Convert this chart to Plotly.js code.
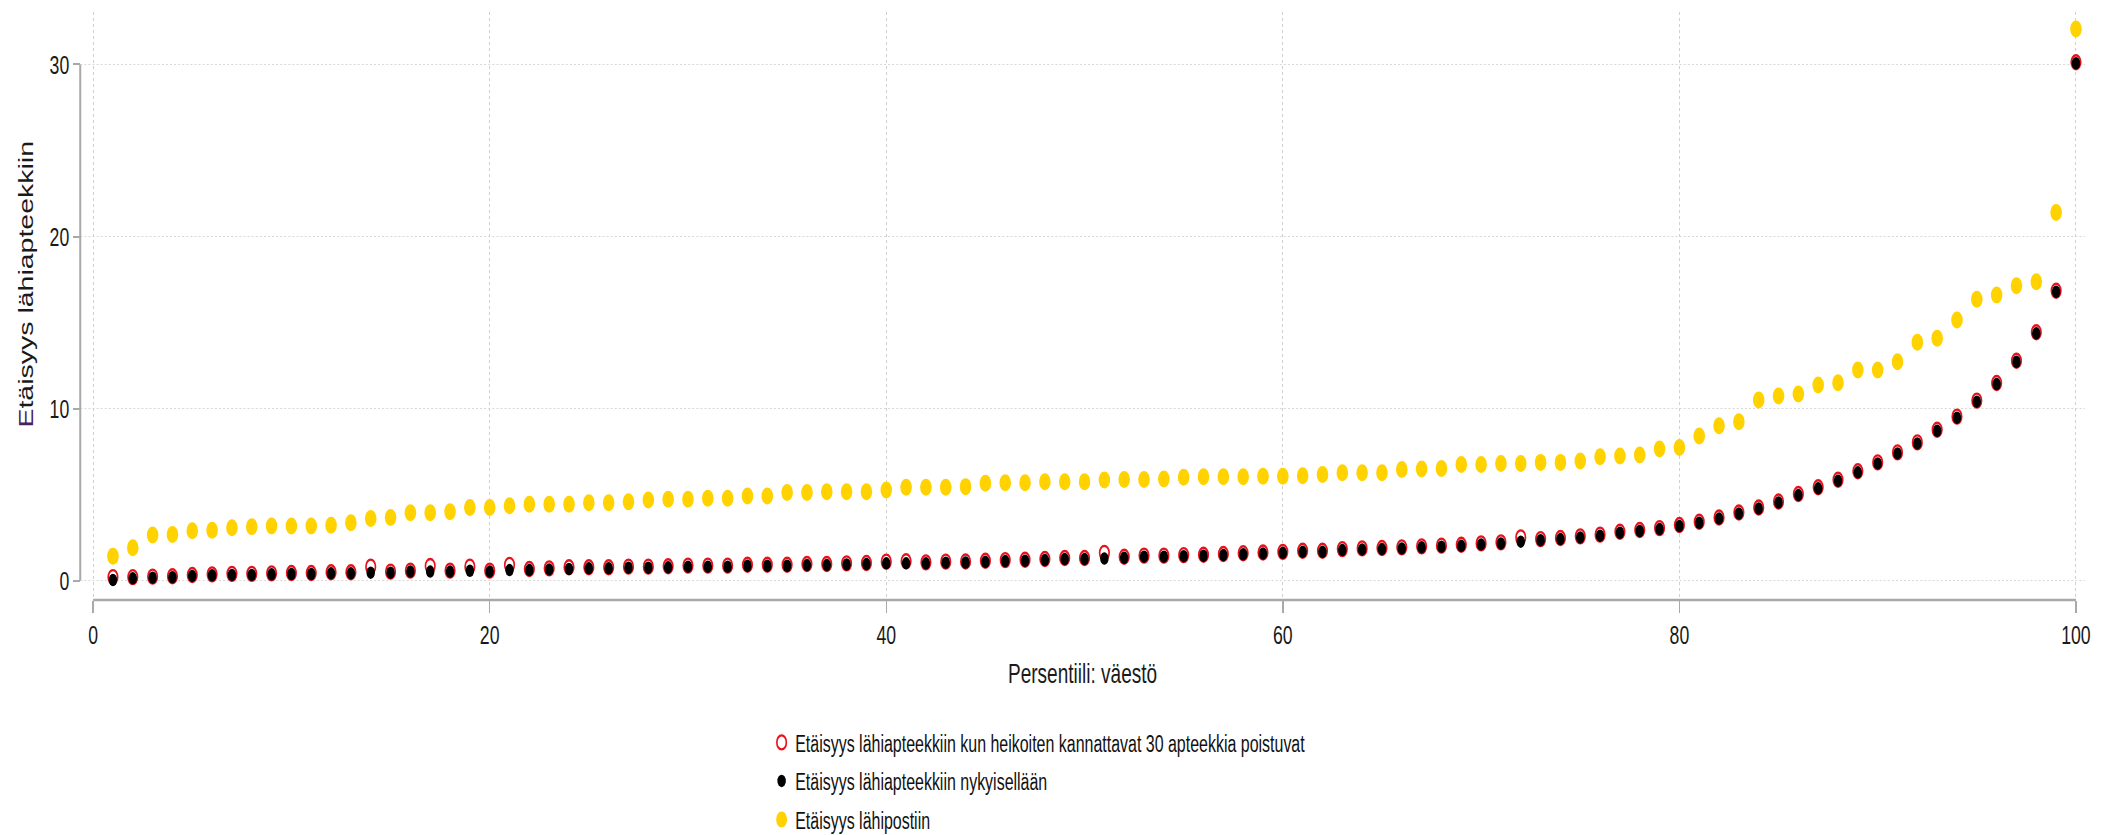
<!DOCTYPE html>
<html>
<head>
<meta charset="utf-8">
<script src="https://cdn.plot.ly/plotly-3.0.1.min.js"></script>
<style>
  html, body { margin: 0; padding: 0; background: #fff; overflow: hidden; }
  #wrap { width: 2105px; height: 835px; overflow: hidden; }
  #chart { width: 3096px; height: 835px; transform: scaleX(0.68); transform-origin: 0 0; }
</style>
</head>
<body>
<div id="wrap"><div id="chart"></div></div>
<script>
const percentile = [1,2,3,4,5,6,7,8,9,10,11,12,13,14,15,16,17,18,19,20,21,22,23,24,25,26,27,28,29,30,
  31,32,33,34,35,36,37,38,39,40,41,42,43,44,45,46,47,48,49,50,51,52,53,54,55,56,57,58,59,60,
  61,62,63,64,65,66,67,68,69,70,71,72,73,74,75,76,77,78,79,80,81,82,83,84,85,86,87,88,89,90,
  91,92,93,94,95,96,97,98,99,100];

const pharmacyAfterClosures = [0.20,0.20,0.23,0.25,0.32,0.36,0.39,0.39,0.42,0.44,0.44,0.48,0.48,0.81,0.52,0.58,0.85,0.58,0.81,0.58,0.91,0.67,0.71,0.77,0.77,0.77,0.81,0.81,0.83,0.87,
  0.87,0.87,0.92,0.92,0.92,0.96,0.96,1.00,1.02,1.10,1.12,1.06,1.10,1.11,1.15,1.19,1.21,1.25,1.31,1.31,1.61,1.38,1.45,1.45,1.48,1.50,1.54,1.59,1.63,1.67,1.73,1.73,1.83,1.87,1.89,
  1.93,1.99,2.03,2.08,2.16,2.22,2.51,2.41,2.47,2.57,2.67,2.84,2.94,3.05,3.23,3.42,3.67,3.96,4.25,4.60,5.03,5.42,5.86,6.35,6.87,7.45,8.03,8.77,9.53,10.46,11.48,12.78,14.43,16.85,30.13];

const pharmacyCurrent = [0.03,0.13,0.17,0.19,0.27,0.31,0.33,0.33,0.36,0.38,0.38,0.42,0.42,0.46,0.46,0.52,0.52,0.52,0.57,0.52,0.61,0.61,0.65,0.67,0.71,0.71,0.75,0.75,0.77,0.81,
  0.81,0.81,0.86,0.86,0.86,0.90,0.90,0.94,0.96,1.00,1.00,1.00,1.04,1.05,1.09,1.13,1.15,1.19,1.25,1.25,1.28,1.32,1.39,1.39,1.42,1.44,1.48,1.53,1.57,1.61,1.67,1.67,1.77,1.81,1.83,
  1.87,1.93,1.97,2.02,2.10,2.16,2.26,2.35,2.41,2.51,2.61,2.78,2.88,2.99,3.17,3.36,3.61,3.90,4.19,4.54,4.97,5.36,5.80,6.29,6.81,7.39,7.97,8.71,9.47,10.40,11.42,12.72,14.37,16.79,30.07];

const postOffice = [1.42,1.91,2.65,2.68,2.90,2.93,3.07,3.13,3.17,3.17,3.17,3.21,3.36,3.61,3.67,3.94,3.94,4.00,4.25,4.25,4.35,4.43,4.43,4.43,4.52,4.52,4.58,4.68,4.72,4.72,
  4.78,4.78,4.91,4.91,5.12,5.12,5.16,5.16,5.16,5.26,5.42,5.42,5.42,5.46,5.65,5.69,5.69,5.75,5.75,5.75,5.84,5.88,5.88,5.90,6.00,6.03,6.03,6.03,6.07,6.07,6.09,6.17,6.27,6.27,6.27,
  6.46,6.48,6.52,6.75,6.75,6.81,6.81,6.87,6.87,6.95,7.20,7.24,7.30,7.65,7.74,8.40,9.00,9.23,10.49,10.73,10.84,11.37,11.50,12.24,12.24,12.72,13.85,14.08,15.14,16.35,16.60,17.14,17.37,21.40,32.06];

const seriesNames = [
  "Etäisyys lähiapteekkiin kun heikoiten kannattavat 30 apteekkia poistuvat",
  "Etäisyys lähiapteekkiin nykyisellään",
  "Etäisyys lähipostiin"
];
const xTicks = [0, 20, 40, 60, 80, 100];
const yTicks = [0, 10, 20, 30];
const xTitle = "Persentiili: väestö";
const yTitle = '<span style="color:#4a1f5c">E</span>täisyys lähiapteekkiin';

const FONT = "'Liberation Sans', Arial, sans-serif";

const traces = [
  { x: percentile, y: pharmacyAfterClosures, type: 'scatter', mode: 'markers', name: seriesNames[0],
    legendgroup: 'a',
    marker: { symbol: 'circle-open', size: 14, color: '#e8121c', line: { width: 2.4, color: '#e8121c' } } },
  { x: percentile, y: pharmacyCurrent, type: 'scatter', mode: 'markers', name: seriesNames[1],
    legendgroup: 'b',
    marker: { symbol: 'circle', size: 12.5, color: '#000000' } },
  { x: percentile, y: postOffice, type: 'scatter', mode: 'markers', name: seriesNames[2],
    legendgroup: 'c',
    marker: { symbol: 'circle', size: 17, color: '#ffd200' } }
];

const axisGray = '#a9a9a9';

const layout = {
  width: 3096, height: 835, autosize: false,
  paper_bgcolor: '#ffffff', plot_bgcolor: '#ffffff',
  margin: { l: 118, r: 30, t: 12, b: 235, autoexpand: false },
  font: { family: FONT, color: '#1a1a1a' },
  showlegend: true,
  legend: {
    xref: 'container', yref: 'container',
    x: 0.3648, y: 0.137, xanchor: 'left', yanchor: 'top',
    orientation: 'v', traceorder: 'grouped', tracegroupgap: 5,
    font: { family: FONT, size: 23.5, color: '#111' },
    itemsizing: 'trace', bgcolor: 'rgba(0,0,0,0)'
  },
  xaxis: {
    range: [-0.65, 100.45], tickvals: xTicks, ticktext: xTicks.map(String),
    showgrid: true, gridcolor: '#d0d0d0', griddash: 'dot', gridwidth: 1.5,
    zeroline: false, showline: false,
    ticks: 'outside', ticklen: 12, tickwidth: 2, tickcolor: axisGray,
    tickfont: { family: FONT, size: 26, color: '#1a1a1a' },
    title: { text: xTitle, font: { family: FONT, size: 28, color: '#1a1a1a' }, standoff: 14 },
    automargin: false, fixedrange: true
  },
  yaxis: {
    range: [-1.13, 33.05], tickvals: yTicks, ticktext: yTicks.map(String),
    showgrid: true, gridcolor: '#d0d0d0', griddash: 'dot', gridwidth: 1,
    zeroline: false, showline: false,
    ticks: 'outside', ticklen: 10, tickwidth: 2, tickcolor: axisGray,
    tickfont: { family: FONT, size: 26, color: '#1a1a1a' },
    automargin: false, fixedrange: true
  },
  shapes: [
    { type: 'line', xref: 'paper', yref: 'y', x0: 0, x1: 0, y0: 0, y1: 30,
      line: { color: axisGray, width: 3 } },
    { type: 'line', xref: 'x', yref: 'paper', x0: 0, x1: 100, y0: 0, y1: 0,
      line: { color: axisGray, width: 2.5 } }
  ],
  annotations: [
    { text: yTitle, xref: 'paper', yref: 'paper', x: -0.027, y: 0.537,
      xanchor: 'center', yanchor: 'middle', textangle: -90, showarrow: false,
      font: { family: FONT, size: 28.5, color: '#1a1a1a' } }
  ]
};

Plotly.newPlot('chart', traces, layout, { displayModeBar: false, staticPlot: true });
</script>
</body>
</html>
